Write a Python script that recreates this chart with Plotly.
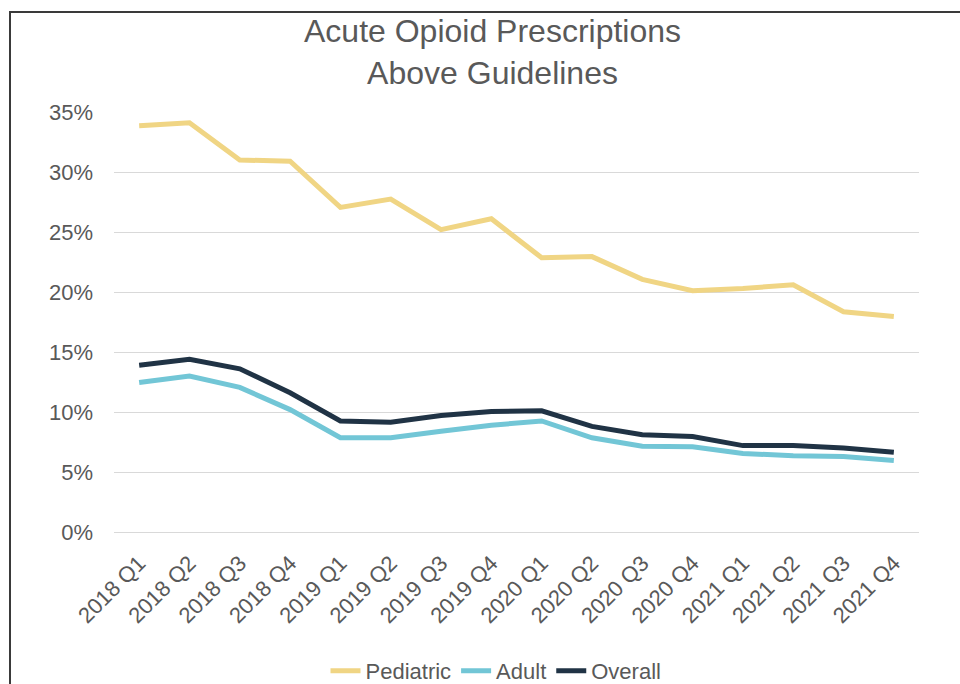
import plotly.graph_objects as go

quarters = ["2018 Q1", "2018 Q2", "2018 Q3", "2018 Q4",
            "2019 Q1", "2019 Q2", "2019 Q3", "2019 Q4",
            "2020 Q1", "2020 Q2", "2020 Q3", "2020 Q4",
            "2021 Q1", "2021 Q2", "2021 Q3", "2021 Q4"]
pediatric = [0.3385, 0.341, 0.310, 0.309, 0.2705, 0.2775, 0.252, 0.261,
             0.2285, 0.2295, 0.2105, 0.201, 0.203, 0.206, 0.1835, 0.1795]
adult = [0.1245, 0.130, 0.1205, 0.102, 0.0785, 0.0785, 0.084, 0.089,
         0.0925, 0.0785, 0.0715, 0.071, 0.0655, 0.0635, 0.063, 0.0595]
overall = [0.139, 0.144, 0.136, 0.116, 0.0925, 0.0915, 0.097, 0.1005,
           0.101, 0.088, 0.081, 0.0795, 0.072, 0.072, 0.070, 0.0665]
y_ticks = [0, 0.05, 0.10, 0.15, 0.20, 0.25, 0.30, 0.35]

FONT = "Liberation Sans"
GRAY = "#595959"

fig = go.Figure()
series = [("Pediatric", pediatric, "#F0D584"),
          ("Adult", adult, "#72C6D6"),
          ("Overall", overall, "#203345")]
for name, vals, col in series:
    fig.add_trace(go.Scatter(x=quarters, y=vals, name=name, mode="lines",
                             line=dict(color=col, width=5)))

fig.update_layout(
    width=960, height=684,
    margin=dict(l=114, r=41, t=112, b=152),
    paper_bgcolor="white", plot_bgcolor="white",
    font=dict(family=FONT, color=GRAY, size=22),
    annotations=[dict(text="Acute Opioid Prescriptions<br>Above Guidelines",
                      x=(492 - 114) / 805, xanchor="center", xref="paper",
                      y=(532 - 11) / 420, yanchor="top", yref="paper",
                      showarrow=False, align="center",
                      font=dict(family=FONT, size=32, color=GRAY))],
    showlegend=True,
    legend=dict(orientation="h", x=496 / 960, xanchor="center", xref="container",
                y=1 - 671 / 684, yanchor="middle", yref="container",
                font=dict(family=FONT, size=22, color=GRAY),
                traceorder="normal"),
    shapes=[dict(type="rect", xref="paper", yref="paper",
                 x0=(10 - 114) / 805, x1=(968 - 114) / 805,
                 y0=(532 - 700) / 420, y1=(532 - 12) / 420,
                 line=dict(color="#3a3a3a", width=2), layer="below")],
)
fig.update_xaxes(type="category", range=[-0.5, 15.5], tickangle=-45,
                 showgrid=False, showline=False, ticks="",
                 ticklabelstandoff=13,
                 tickfont=dict(family=FONT, size=22, color=GRAY))
fig.update_yaxes(range=[0, 0.35], tickvals=y_ticks, tickformat=".0%",
                 showgrid=True, gridcolor="#d9d9d9", gridwidth=1,
                 zeroline=True, zerolinecolor="#d9d9d9", zerolinewidth=1,
                 showline=False, ticks="", ticklabelstandoff=20,
                 tickfont=dict(family=FONT, size=22, color=GRAY))

fig.write_html("out.html")
